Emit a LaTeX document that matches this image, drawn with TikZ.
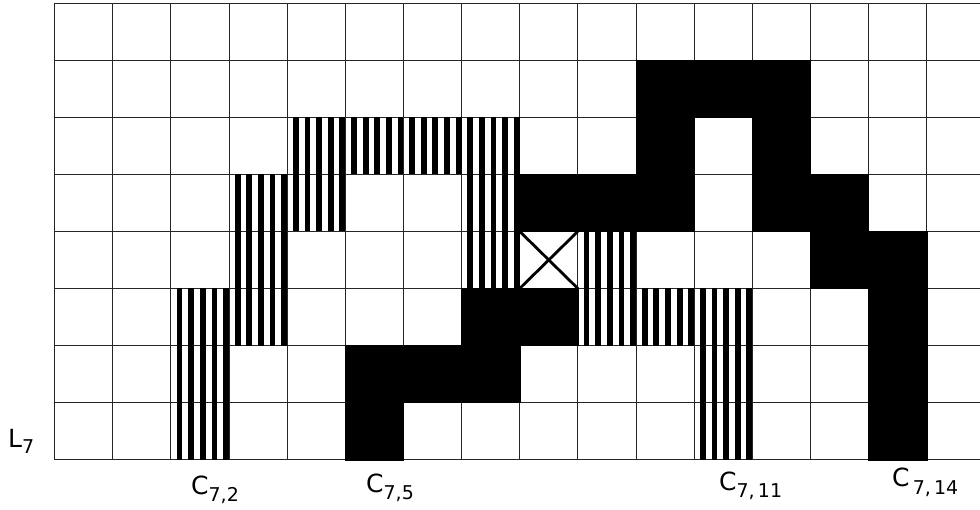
\documentclass[tikz,border=0pt]{standalone}
\usepackage{fontspec}
\setmainfont{DejaVu Sans}
\begin{document}
\begin{tikzpicture}[x=1pt,y=-1pt,
  gridline/.style={line width=0.9pt,draw=black!85},
  blackcell/.style={fill=black,draw=black,line width=0.4pt},
  stripe/.style={fill=black},
  crossline/.style={line width=2.8pt,draw=black},
  lab/.style={inner sep=0pt,font=\fontsize{25}{25}\selectfont}]
\useasboundingbox (0,0) rectangle (980,510);
\def\W{58.15}
\def\H{57.1}
\def\XO{54.5}
\def\YO{3}
% grid
\foreach \k in {0,...,15}
  \draw[gridline] ({\XO+\k*\W},\YO) -- ({\XO+\k*\W},{\YO+8*\H});
\foreach \r in {0,...,8}
  \draw[gridline] (\XO,{\YO+\r*\H}) -- (980,{\YO+\r*\H});
% black cells
\foreach \c/\r in {5/6,5/7,6/6,7/5,7/6,8/5,8/3,9/3,10/1,10/2,10/3,11/1,12/1,12/2,12/3,13/3,13/4,14/4,14/5,14/6,14/7}
  \draw[blackcell] ({\XO+\c*\W},{\YO+\r*\H}) rectangle ({\XO+(\c+1)*\W},{\YO+(\r+1)*\H});
% hatched cells
\foreach \c/\r in {2/5,2/6,2/7,3/3,3/4,3/5,4/2,4/3,5/2,6/2,7/2,7/3,7/4,9/4,9/5,10/5,11/5,11/6,11/7}
  \foreach \i in {0,...,4}
    \fill[stripe] ({\XO+\c*\W+(\i+0.5)*\W/5},{\YO+\r*\H}) rectangle ({\XO+\c*\W+(\i+1)*\W/5},{\YO+(\r+1)*\H});
% crossed cell
\coordinate (xa) at ({\XO+8*\W},{\YO+4*\H});
\coordinate (xb) at ({\XO+9*\W},{\YO+5*\H});
\coordinate (xc) at ({\XO+9*\W},{\YO+4*\H});
\coordinate (xd) at ({\XO+8*\W},{\YO+5*\H});
\draw[crossline] (xa) -- (xb);
\draw[crossline] (xc) -- (xd);
% labels
\node[lab,anchor=base west] (L7) at (8,447) {L\raisebox{-6pt}{\fontsize{19}{19}\selectfont 7}};
\node[lab,anchor=base west] (c72) at (191,494) {C\raisebox{-7pt}{\fontsize{19}{19}\selectfont 7,2}};
\node[lab,anchor=base west] (c75) at (366,492) {C\raisebox{-7pt}{\fontsize{19}{19}\selectfont 7,5}};
\node[lab,anchor=base west] (c711) at (719,490) {C\raisebox{-7pt}{\fontsize{19}{19}\selectfont 7,\,11}};
\node[lab,anchor=base west] (c714) at (892,486) {C\raisebox{-8pt}{\fontsize{19}{19}\selectfont \,7,\,14}};
\end{tikzpicture}
\end{document}
